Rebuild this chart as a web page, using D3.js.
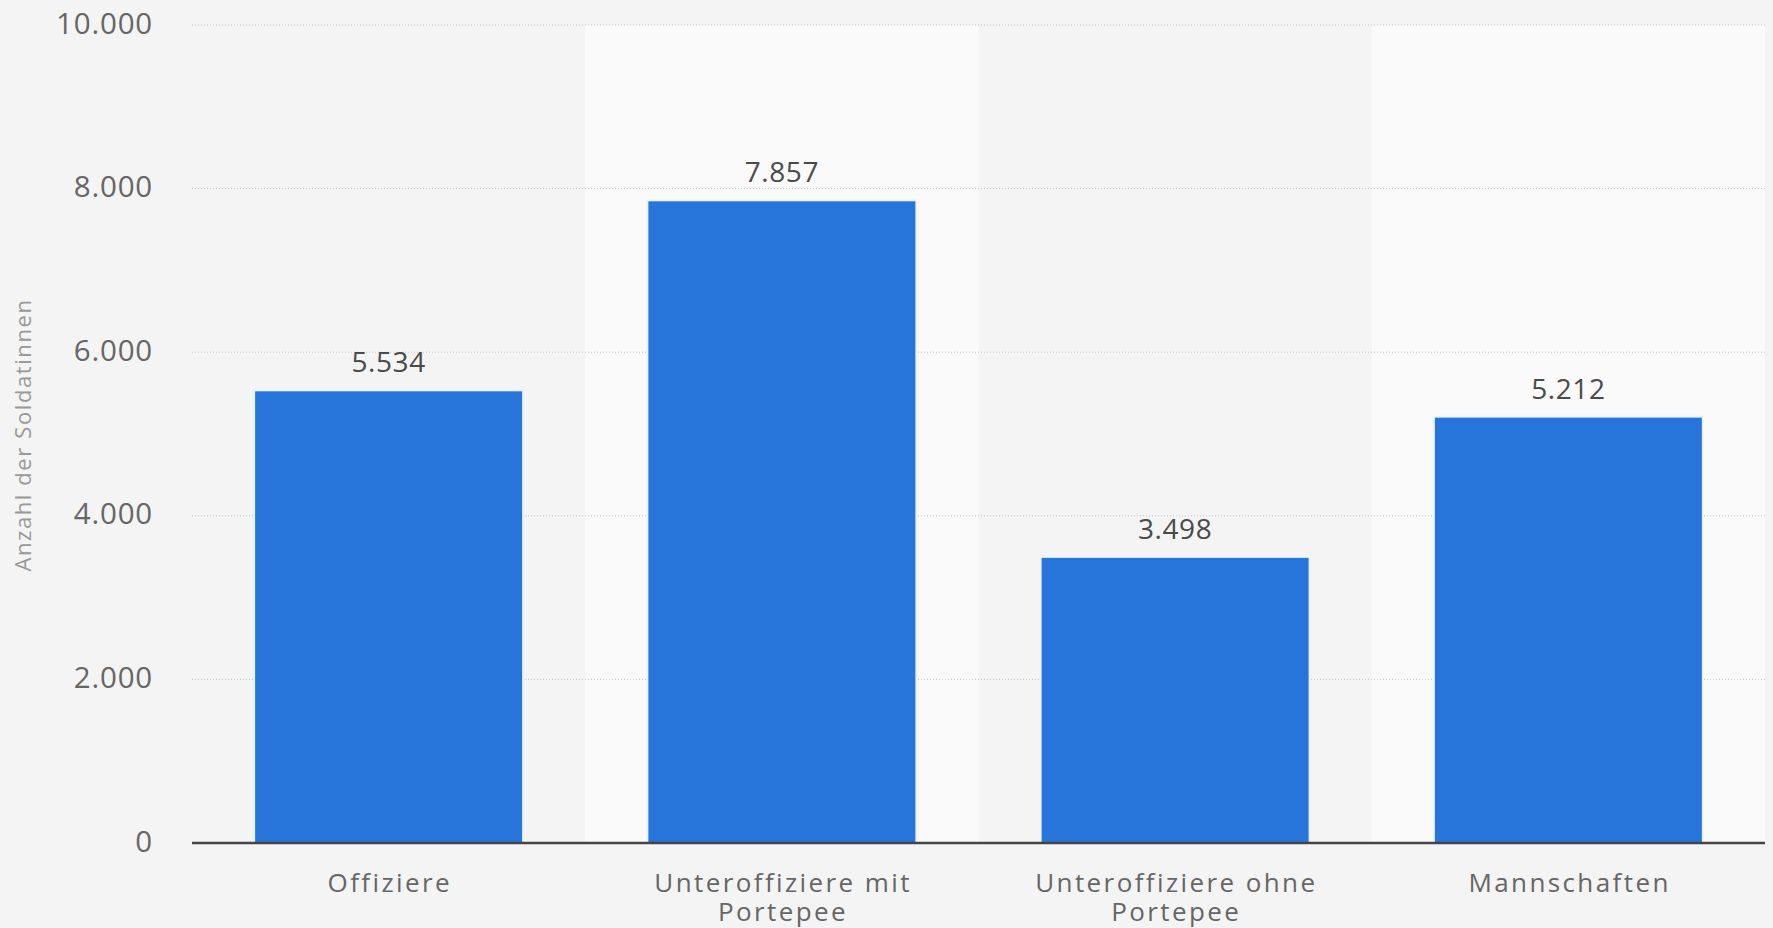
<!DOCTYPE html>
<html>
<head>
<meta charset="utf-8">
<script src="https://cdn.jsdelivr.net/npm/d3@7"></script>
<style>
  html, body { margin: 0; padding: 0; background: #f4f4f4; }
  svg { display: block; }
  text { font-family: "Open Sans", sans-serif; }
</style>
</head>
<body>
<svg id="chart" width="1773" height="928"></svg>
<script>
const categories = [["Offiziere"], ["Unteroffiziere mit", "Portepee"], ["Unteroffiziere ohne", "Portepee"], ["Mannschaften"]];
const values = [5534, 7857, 3498, 5212];
const valueLabels = ["5.534", "7.857", "3.498", "5.212"];
const yTicks = [0, 2000, 4000, 6000, 8000, 10000];
const yTickLabels = ["0", "2.000", "4.000", "6.000", "8.000", "10.000"];
const yTitle = "Anzahl der Soldatinnen";

(function () {
const svg = d3.select("#chart");
const W = 1773, H = 928;
const mLeft = 192, mRight = 1765, mTop = 25, mBottom = 843;

const keys = categories.map((c, i) => i);
const x = d3.scaleBand().domain(keys).range([mLeft, mRight]).paddingInner(0.316).paddingOuter(0.158);
const y = d3.scaleLinear().domain([0, 10000]).range([mBottom, mTop]);

svg.append("rect").attr("width", W).attr("height", H).attr("fill", "#f4f4f4");

// alternating stripes
const step = x.step();
svg.append("g").selectAll("rect").data(keys.filter(i => i % 2 === 1)).join("rect")
  .attr("x", i => x(i) - x.paddingOuter() * step)
  .attr("y", y(10000))
  .attr("width", step)
  .attr("height", y(0) - y(10000))
  .attr("fill", "#fafafa");

// gridlines
svg.append("g").selectAll("line").data(yTicks.filter(t => t > 0)).join("line")
  .attr("x1", mLeft).attr("x2", mRight)
  .attr("y1", d => y(d)).attr("y2", d => y(d))
  .attr("stroke", "#c4c4c4").attr("stroke-width", 1)
  .attr("stroke-dasharray", "1,2");

// y tick labels
svg.append("g").selectAll("text").data(yTicks).join("text")
  .attr("x", 153).attr("y", d => y(d)).attr("dy", "0.29em")
  .attr("text-anchor", "end")
  .attr("font-size", 29.5).attr("letter-spacing", 0.8).attr("fill", "#666")
  .text((d, i) => yTickLabels[i]);

// y title
svg.append("text")
  .attr("transform", `translate(31,${(mTop + mBottom) / 2 + 1}) rotate(-90)`)
  .attr("text-anchor", "middle")
  .attr("font-size", 22).attr("letter-spacing", 1.6).attr("fill", "#999")
  .text(yTitle);

// bars
svg.append("g").selectAll("rect").data(values).join("rect")
  .attr("x", (d, i) => x(i))
  .attr("y", d => y(d))
  .attr("width", x.bandwidth())
  .attr("height", d => y(0) - y(d))
  .attr("fill", "#2775db")
  .attr("stroke", "#eaf4ff").attr("stroke-width", 2);

// value labels
svg.append("g").selectAll("text").data(values).join("text")
  .attr("x", (d, i) => x(i) + x.bandwidth() / 2)
  .attr("y", d => y(d) - 18)
  .attr("text-anchor", "middle")
  .attr("font-size", 28).attr("letter-spacing", 0.6).attr("fill", "#4a4a4a")
  .text((d, i) => valueLabels[i]);

// x axis line
svg.append("line")
  .attr("x1", mLeft).attr("x2", mRight)
  .attr("y1", y(0)).attr("y2", y(0))
  .attr("stroke", "#444").attr("stroke-width", 2.6);

// category labels
const cat = svg.append("g").selectAll("text").data(categories).join("text")
  .attr("text-anchor", "middle")
  .attr("font-size", 26).attr("letter-spacing", 2.4).attr("fill", "#666");
cat.each(function(lines, i) {
  d3.select(this).selectAll("tspan").data(lines).join("tspan")
    .attr("x", x(i) + x.bandwidth() / 2 + 1.2)
    .attr("y", (l, j) => 892 + j * 29)
    .text(l => l);
});
})();
</script>
</body>
</html>
